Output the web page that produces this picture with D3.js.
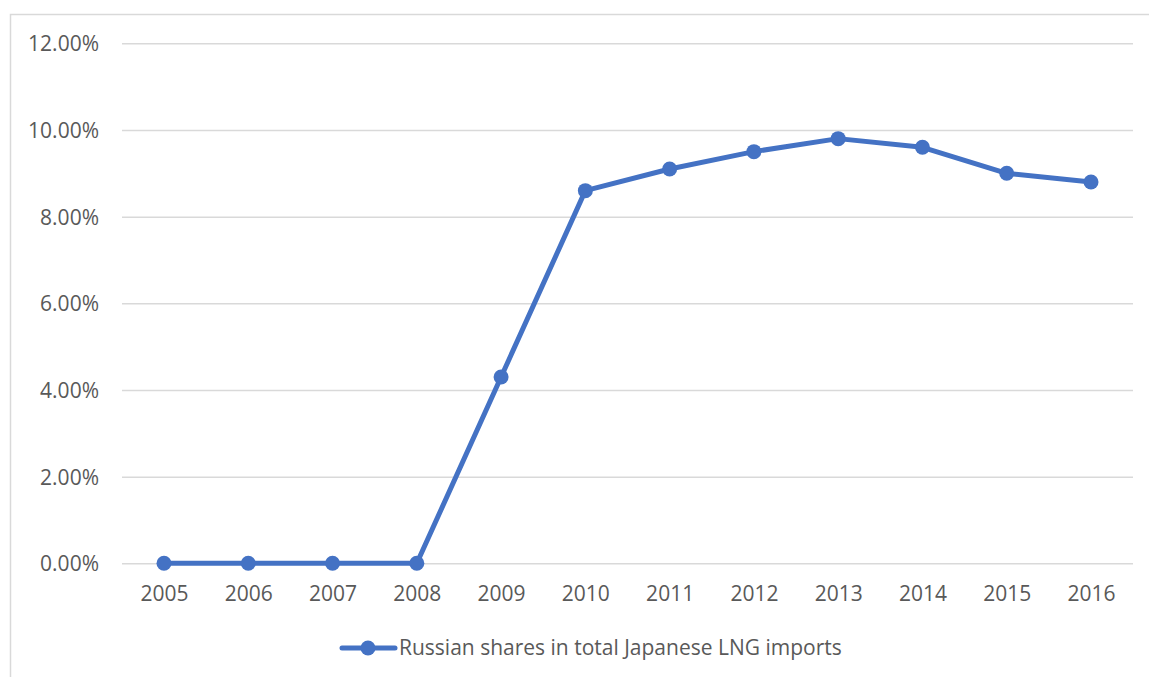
<!DOCTYPE html>
<html><head><meta charset="utf-8">
<script src="https://cdn.jsdelivr.net/npm/d3@7"></script>
<style>body{margin:0;background:#fff}svg{display:block}</style>
</head><body>
<script>
const years = ["2005","2006","2007","2008","2009","2010","2011","2012","2013","2014","2015","2016"];
const shares = [0, 0, 0, 0, 0.043, 0.086, 0.091, 0.095, 0.098, 0.096, 0.090, 0.088];
const yTicks = [0, 0.02, 0.04, 0.06, 0.08, 0.10, 0.12];
const seriesName = "Russian shares in total Japanese LNG imports";

const W = 1149, H = 677;
const color = "#4472C4", textColor = "#595959", gridColor = "#d9d9d9";
const font = "'Open Sans', sans-serif";
const fs = "21px";
const svg = d3.select("body").append("svg").attr("width", W).attr("height", H);

svg.append("rect").attr("x", 10.5).attr("y", 14.5).attr("width", W + 10).attr("height", H + 10)
  .attr("fill", "none").attr("stroke", gridColor).attr("stroke-width", 1.5);

const x = d3.scalePoint().domain(years).range([164, 1091]);
const y = d3.scaleLinear().domain([0, 0.12]).range([563.3, 43.3]);
const left = 122, right = 1133;

const yAxis = d3.axisLeft(y).tickValues(yTicks).tickFormat(d3.format(".2%")).tickSize(-(right - left)).tickPadding(23);
const gy = svg.append("g").attr("transform", `translate(${left},0)`).call(yAxis);
gy.select(".domain").remove();
gy.selectAll(".tick line").attr("stroke", gridColor).attr("stroke-width", 1.5);
gy.selectAll(".tick text").attr("fill", textColor).style("font-family", font).style("font-size", fs).attr("dy", "0.36em");

const xAxis = d3.axisBottom(x).tickSize(0).tickPadding(23);
const gx = svg.append("g").attr("transform", `translate(0,${y(0)})`).call(xAxis);
gx.select(".domain").remove();
gx.selectAll(".tick text").attr("fill", textColor).style("font-family", font).style("font-size", fs).attr("dy", "0.71em");

const line = d3.line().x((d, i) => x(years[i])).y(d => y(d));
svg.append("path").datum(shares).attr("d", line).attr("fill", "none")
  .attr("stroke", color).attr("stroke-width", 5).attr("stroke-linejoin", "round").attr("stroke-linecap", "round");
svg.selectAll("circle.pt").data(shares).join("circle").attr("class", "pt")
  .attr("cx", (d, i) => x(years[i])).attr("cy", d => y(d)).attr("r", 7.5).attr("fill", color);

const lg = svg.append("g");
lg.append("line").attr("x1", 342).attr("x2", 395).attr("y1", 648).attr("y2", 648)
  .attr("stroke", color).attr("stroke-width", 5).attr("stroke-linecap", "round");
lg.append("circle").attr("cx", 368).attr("cy", 648).attr("r", 7.5).attr("fill", color);
lg.append("text").attr("x", 399).attr("y", 655).text(seriesName)
  .attr("fill", textColor).style("font-family", font).style("font-size", fs);
</script>
</body></html>
